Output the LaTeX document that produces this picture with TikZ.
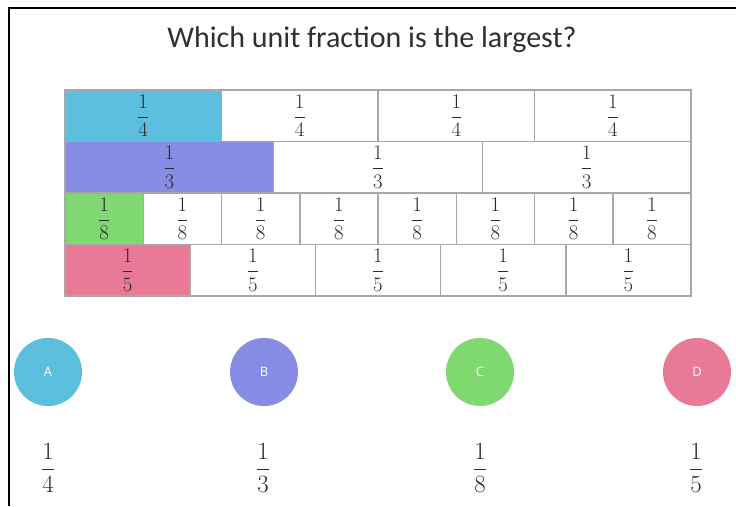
\documentclass[tikz,border=0pt]{standalone}
\usepackage{fontspec}
\setmainfont{Carlito}
\newfontfamily\letterfont{Open Sans}
\usepackage{amsmath}
\definecolor{qblue}{HTML}{5BBFDD}
\definecolor{tpurple}{HTML}{878DE4}
\definecolor{egreen}{HTML}{80D970}
\definecolor{fpink}{HTML}{E87A98}
\definecolor{gridgray}{HTML}{A8A8A8}
\definecolor{fracgray}{HTML}{2A2A2A}
\definecolor{titlegray}{HTML}{303030}
\begin{document}
\begin{tikzpicture}[x=1pt,y=-1pt,
  cell/.style={draw=gridgray, line width=1.5pt, inner sep=0pt, outer sep=0pt,
    anchor=north west, minimum height=51.5, text=fracgray,
    font=\fontsize{20}{20}\selectfont},
  choice/.style={circle, minimum size=68, inner sep=0pt, text=white,
    font=\fontsize{13}{13}\selectfont\letterfont},
  ans/.style={text=fracgray, inner sep=0pt, font=\fontsize{24}{24}\selectfont}]
\useasboundingbox (0,0) rectangle (736,506);
\fill[white] (0,0) rectangle (736,506);
\draw[line width=2.5pt] (9,506) -- (9,8) -- (736,8);
\node[font=\fontsize{30}{34}\selectfont, text=titlegray] (title) at (372,40)
  {Which unit fraction is the largest?};
\foreach \n/\col [count=\r from 0] in {4/qblue,3/tpurple,8/egreen,5/fpink} {
  \pgfmathsetmacro\w{626/\n}
  \foreach \i in {1,...,\n} {
    \ifnum\i=1 \def\fc{\col}\else\def\fc{white}\fi
    \node[cell, minimum width=\w, fill=\fc] (c\r-\i)
      at ({65+(\i-1)*\w}, {90+\r*51.5}) {$\dfrac{1}{\n}$};
  }
}
\node[choice, fill=qblue]   (A) at (48,372)  {A};
\node[choice, fill=tpurple] (B) at (264,372) {B};
\node[choice, fill=egreen]  (C) at (480,372) {C};
\node[choice, fill=fpink]   (D) at (697,372) {D};
\node[ans] (fa) at (48,468)  {$\dfrac{1}{4}$};
\node[ans] (fb) at (263,468) {$\dfrac{1}{3}$};
\node[ans] (fc) at (480,468) {$\dfrac{1}{8}$};
\node[ans] (fd) at (696,468) {$\dfrac{1}{5}$};
\end{tikzpicture}
\end{document}
